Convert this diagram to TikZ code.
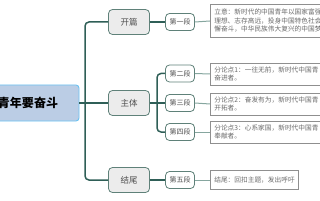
\documentclass[tikz,border=0pt]{standalone}
\usepackage{fontspec}
\setmainfont{Noto Sans CJK SC}
\definecolor{trunk}{HTML}{2F5F57}
\definecolor{twig}{HTML}{86A69F}
\definecolor{partedge}{HTML}{5F8179}
\definecolor{partfill}{HTML}{ECECEC}
\definecolor{rootfill}{HTML}{BBCDE5}
\definecolor{rootedge}{HTML}{6CC3F2}
\definecolor{noteedge}{HTML}{8F8F8F}
\definecolor{labeltext}{HTML}{505050}
\definecolor{notetext}{HTML}{6B6B6B}
\tikzset{
  rootbox/.style={draw=rootedge, fill=rootfill, rounded corners=3, line width=0.9,
    minimum width=102, minimum height=36, font=\fontsize{12}{12}\selectfont\bfseries},
  partbox/.style={draw=partedge, fill=partfill, rounded corners=4, line width=0.8,
    minimum width=41, minimum height=25, text=labeltext, font=\fontsize{8.5}{9}\selectfont},
  parabox/.style={draw=partedge, fill=white, rounded corners=4, line width=0.8, inner sep=1,
    minimum width=29, minimum height=17, text=labeltext, font=\fontsize{7}{8}\selectfont},
  notebox/.style={draw=noteedge, fill=white, line width=0.6, anchor=west, align=left,
    inner xsep=4, text=notetext, font=\fontsize{6.7}{8.5}\selectfont},
  mainline/.style={draw=trunk, line width=1.5, rounded corners=4},
  subline/.style={draw=twig, line width=1},
}
\begin{document}
\begin{tikzpicture}[x=1pt, y=-1pt]
  \useasboundingbox (0,0) rectangle (320,200);
  \clip (0,0) rectangle (320,200);

  % root and the three parts
  \node[rootbox] (root) at (28,103) {青年要奋斗};
  \node[partbox] (kp) at (129,22) {开篇};
  \node[partbox] (zt) at (129,103) {主体};
  \node[partbox] (jw) at (129,180) {结尾};

  % paragraphs
  \node[parabox] (d1) at (180,22) {第一段};
  \node[parabox] (d2) at (180,73.5) {第二段};
  \node[parabox] (d3) at (180,103) {第三段};
  \node[parabox] (d4) at (180,132) {第四段};
  \node[parabox] (d5) at (180,180) {第五段};

  % notes
  \node[notebox, text width=112, minimum height=33] (n1) at (210,21)
    {立意：新时代的中国青年以国家富强\\理想、志存高远，投身中国特色社会\\懈奋斗，中华民族伟大复兴的中国梦};
  \node[notebox, text width=112, minimum height=22] (n2) at (210,74)
    {分论点1：一往无前，新时代中国青\\奋进者。};
  \node[notebox, text width=112, minimum height=22] (n3) at (210,104)
    {分论点2：奋发有为，新时代中国青\\开拓者。};
  \node[notebox, text width=112, minimum height=22] (n4) at (210,132)
    {分论点3：心系家国，新时代中国青\\奉献者。};
  \node[notebox, minimum height=19] (n5) at (210,180) {结尾：回扣主题，发出呼吁};

  % connectors
  \coordinate (fork) at (85,103);
  \coordinate (subfork) at (157,103);
  \draw[mainline] (kp.west) -| (fork) |- (jw.west);
  \draw[mainline] (root.east) -- (zt.west);
  \draw[mainline] (d2.west) -| (subfork) |- (d4.west);
  \draw[mainline] (zt.east) -- (d3.west);
  \draw[mainline] (kp.east) -- (d1.west);
  \draw[mainline] (jw.east) -- (d5.west);
  \foreach \i in {1,...,5}
    \draw[subline] (d\i.east) -- (n\i.west);
\end{tikzpicture}
\end{document}
